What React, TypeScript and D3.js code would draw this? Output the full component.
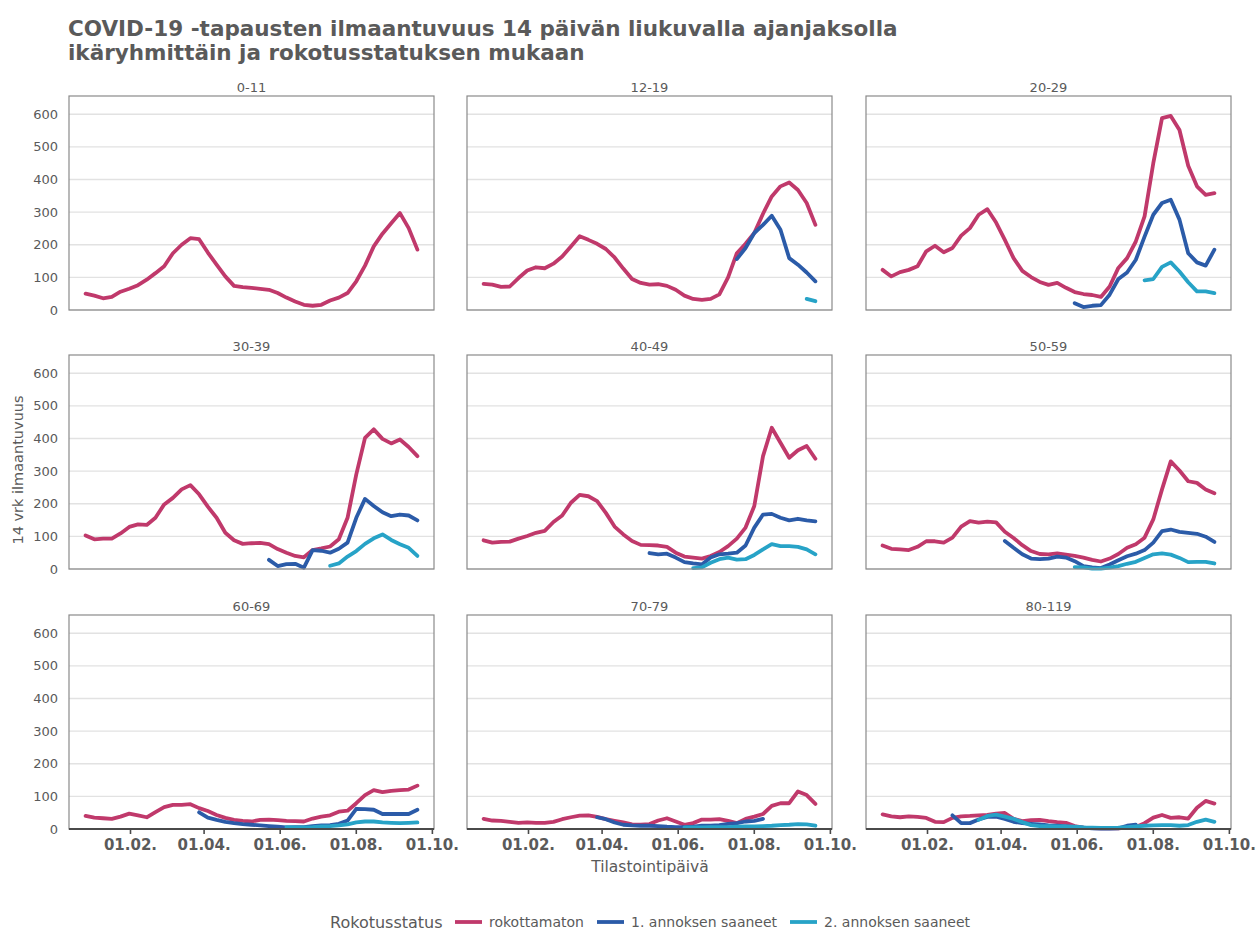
import React from "react";
import * as d3 from "d3";

// ---------- data ----------
const dateLabels = [
  "2020-12-27", "2021-01-03", "2021-01-10", "2021-01-17", "2021-01-24", "2021-01-31",
  "2021-02-07", "2021-02-14", "2021-02-21", "2021-02-28", "2021-03-07", "2021-03-14",
  "2021-03-21", "2021-03-28", "2021-04-04", "2021-04-11", "2021-04-18", "2021-04-25",
  "2021-05-02", "2021-05-09", "2021-05-16", "2021-05-23", "2021-05-30", "2021-06-06",
  "2021-06-13", "2021-06-20", "2021-06-27", "2021-07-04", "2021-07-11", "2021-07-18",
  "2021-07-25", "2021-08-01", "2021-08-08", "2021-08-15", "2021-08-22", "2021-08-29",
  "2021-09-05", "2021-09-12", "2021-09-19",
];

const ageGroups = ["0-11", "12-19", "20-29", "30-39", "40-49", "50-59", "60-69", "70-79", "80-119"];
const statusNames = ["rokottamaton", "1. annoksen saaneet", "2. annoksen saaneet"];
const statusColors = ["#c0396b", "#2b5ba8", "#27a3c7"];

const xTickLabels = ["2021-02-01", "2021-04-01", "2021-06-01", "2021-08-01", "2021-10-01"];
const yTickValues = [0, 100, 200, 300, 400, 500, 600];

// each series: [index of first date, values...]
const unvac_0_11 = [0, 50, 44, 36, 40, 56, 65, 76, 93, 113, 134, 174, 200, 220, 217, 176, 139, 103, 74, 70, 68, 65, 62, 52, 38, 26, 16, 13, 16, 29, 38, 52, 88, 136, 195, 234, 266, 297, 251, 185];
const dose1_0_11: number[] = [];
const dose2_0_11: number[] = [];

const unvac_12_19 = [0, 80, 78, 71, 72, 98, 121, 131, 128, 142, 164, 195, 226, 215, 203, 187, 161, 127, 95, 83, 78, 79, 74, 62, 44, 34, 31, 34, 48, 100, 174, 203, 236, 295, 348, 379, 391, 368, 328, 261];
const dose1_12_19 = [29, 156, 190, 236, 261, 289, 246, 159, 139, 115, 88];
const dose2_12_19 = [37, 34, 27];

const unvac_20_29 = [0, 123, 103, 116, 123, 134, 180, 197, 177, 190, 228, 251, 292, 309, 268, 215, 159, 120, 101, 86, 77, 83, 68, 55, 49, 46, 40, 72, 129, 159, 210, 287, 450, 588, 595, 552, 442, 379, 353, 358];
const dose1_20_29 = [22, 21, 9, 13, 15, 47, 95, 115, 154, 225, 292, 328, 338, 277, 174, 146, 136, 185];
const dose2_20_29 = [30, 91, 95, 132, 146, 118, 85, 57, 57, 52];

const unvac_30_39 = [0, 103, 91, 93, 93, 109, 129, 137, 135, 157, 198, 218, 244, 257, 229, 191, 157, 111, 88, 77, 79, 80, 76, 61, 50, 40, 36, 58, 63, 69, 91, 157, 290, 402, 428, 399, 385, 397, 374, 346];
const dose1_30_39 = [21, 28, 9, 15, 16, 4, 58, 56, 50, 62, 81, 157, 215, 193, 174, 162, 167, 164, 149];
const dose2_30_39 = [28, 10, 17, 38, 55, 77, 94, 106, 89, 76, 65, 40];

const unvac_40_49 = [0, 88, 81, 83, 84, 93, 101, 111, 117, 144, 164, 203, 227, 223, 208, 172, 130, 106, 86, 74, 73, 72, 68, 50, 38, 35, 32, 40, 52, 70, 93, 127, 193, 346, 433, 387, 341, 364, 377, 338];
const dose1_40_49 = [19, 49, 45, 47, 35, 21, 17, 14, 35, 45, 47, 50, 72, 127, 167, 169, 157, 149, 154, 149, 146];
const dose2_40_49 = [24, 3, 5, 19, 30, 35, 29, 30, 43, 60, 76, 70, 70, 68, 60, 45];

const unvac_50_59 = [0, 72, 62, 60, 58, 68, 85, 85, 81, 96, 130, 147, 142, 145, 143, 114, 95, 73, 55, 46, 45, 48, 44, 40, 35, 28, 23, 32, 46, 65, 76, 96, 152, 244, 330, 302, 269, 264, 244, 232];
const dose1_50_59 = [14, 86, 65, 45, 32, 30, 32, 38, 35, 24, 9, 5, 3, 14, 27, 39, 47, 58, 81, 116, 121, 114, 111, 108, 99, 83];
const dose2_50_59 = [22, 6, 5, 1, 1, 4, 9, 16, 22, 34, 45, 48, 44, 34, 21, 22, 22, 17];

const unvac_60_69 = [0, 40, 35, 33, 31, 38, 47, 42, 36, 52, 67, 74, 74, 76, 64, 55, 43, 34, 28, 25, 23, 28, 29, 27, 25, 24, 23, 32, 38, 42, 53, 56, 79, 104, 119, 113, 117, 119, 121, 133];
const dose1_60_69 = [13, 51, 35, 28, 22, 18, 15, 13, 11, 9, 7, 5, 6, 6, 9, 11, 12, 16, 26, 62, 61, 59, 46, 46, 46, 46, 59];
const dose2_60_69 = [23, 6, 5, 5, 6, 8, 9, 11, 14, 20, 23, 23, 20, 19, 18, 19, 20];

const unvac_70_79 = [0, 31, 26, 25, 22, 19, 20, 19, 19, 22, 30, 36, 41, 42, 37, 30, 25, 20, 14, 13, 15, 26, 33, 23, 13, 18, 29, 29, 30, 25, 18, 31, 38, 46, 71, 79, 79, 115, 104, 77];
const dose1_70_79 = [13, 36, 30, 20, 13, 11, 10, 10, 9, 7, 6, 6, 7, 10, 10, 12, 16, 18, 23, 25, 31];
const dose2_70_79 = [23, 5, 5, 5, 6, 6, 6, 7, 8, 8, 9, 10, 12, 13, 15, 14, 10];

const unvac_80_119 = [0, 45, 39, 36, 39, 37, 34, 22, 21, 34, 39, 40, 42, 43, 47, 49, 31, 24, 27, 28, 24, 21, 19, 9, 4, 3, 2, 2, 2, 4, 6, 18, 35, 43, 34, 36, 32, 65, 86, 78];
const dose1_80_119 = [8, 42, 18, 18, 29, 37, 38, 31, 22, 18, 16, 14, 11, 10, 8, 6, 4, 2, 1, 1, 2, 10, 13];
const dose2_80_119 = [11, 28, 40, 44, 38, 31, 21, 12, 9, 9, 8, 8, 7, 5, 4, 3, 3, 4, 6, 8, 10, 11, 12, 12, 10, 12, 22, 29, 22];

const seriesTable: number[][][] = [
  [unvac_0_11, dose1_0_11, dose2_0_11],
  [unvac_12_19, dose1_12_19, dose2_12_19],
  [unvac_20_29, dose1_20_29, dose2_20_29],
  [unvac_30_39, dose1_30_39, dose2_30_39],
  [unvac_40_49, dose1_40_49, dose2_40_49],
  [unvac_50_59, dose1_50_59, dose2_50_59],
  [unvac_60_69, dose1_60_69, dose2_60_69],
  [unvac_70_79, dose1_70_79, dose2_70_79],
  [unvac_80_119, dose1_80_119, dose2_80_119],
];

// ---------- layout ----------
const W = 1260;
const H = 932;
const FONT = "DejaVu Sans, sans-serif";
const TXT = "#5a5a5a";
const colLefts = [69, 467, 866];
const rowTops = [96, 355, 615];
const PW = 365;
const PH = 214;

const parse = d3.timeParse("%Y-%m-%d");
const dates = dateLabels.map((d) => parse(d) as Date);

function toPoints(s: number[]) {
  if (!s.length) return [] as { d: Date; v: number }[];
  const start = s[0];
  return s.slice(1).map((v, i) => ({ d: dates[start + i], v }));
}

const dExt = d3.extent(dates) as [Date, Date];
const span = +dExt[1] - +dExt[0];
const x = d3
  .scaleTime()
  .domain([new Date(+dExt[0] - span * 0.05), new Date(+dExt[1] + span * 0.05)])
  .range([0, PW]);
const y = d3.scaleLinear().domain([0, 656]).range([PH, 0]);
const line = d3
  .line<{ d: Date; v: number }>()
  .x((p) => x(p.d))
  .y((p) => y(p.v))
  .curve(d3.curveLinear);
const fmt = d3.timeFormat("%d.%m.");

export default function App() {
  return (
    <svg
      width={W}
      height={H}
      style={{ position: "absolute", left: 0, top: 0, background: "#fff" }}
      fontFamily={FONT}
    >
      <text x={68} y={36} fontSize={21.5} fontWeight="bold" fill={TXT}>
        COVID-19 -tapausten ilmaantuvuus 14 päivän liukuvalla ajanjaksolla
      </text>
      <text x={68} y={59.5} fontSize={21.5} fontWeight="bold" fill={TXT}>
        ikäryhmittäin ja rokotusstatuksen mukaan
      </text>

      {ageGroups.map((g, gi) => {
        const col = gi % 3;
        const row = Math.floor(gi / 3);
        const left = colLefts[col];
        const top = rowTops[row];
        return (
          <g key={g} transform={`translate(${left},${top})`}>
            <text x={PW / 2} y={-4} textAnchor="middle" fontSize={13} fill={TXT}>
              {g}
            </text>
            {yTickValues.map((t) => (
              <line key={t} x1={0} x2={PW} y1={y(t)} y2={y(t)} stroke="#e2e2e2" strokeWidth={1.3} />
            ))}
            {col === 0 &&
              yTickValues.map((t) => (
                <text key={t} x={-11} y={y(t)} dy="0.35em" textAnchor="end" fontSize={13} fill={TXT}>
                  {t}
                </text>
              ))}
            <g>
              {seriesTable[gi].map((s, si) =>
                s.length ? (
                  <path
                    key={si}
                    d={line(toPoints(s)) || ""}
                    fill="none"
                    stroke={statusColors[si]}
                    strokeWidth={3.8}
                    strokeLinejoin="round"
                    strokeLinecap="round"
                  />
                ) : null
              )}
            </g>
            <rect x={0} y={0} width={PW} height={PH} fill="none" stroke="#8a8a8a" strokeWidth={1.2} />
            {row === 2 && (
              <g>
                <line x1={0} x2={PW} y1={PH} y2={PH} stroke="#4a4a4a" strokeWidth={2.2} />
                {xTickLabels.map((t) => {
                  const dt = parse(t) as Date;
                  const xx = x(dt);
                  return (
                    <g key={t} transform={`translate(${xx},${PH})`}>
                      <line y1={0} y2={5} stroke="#4a4a4a" strokeWidth={1.6} />
                      <text y={21} textAnchor="middle" fontSize={15} fontWeight="bold" fill={TXT}>
                        {fmt(dt)}
                      </text>
                    </g>
                  );
                })}
              </g>
            )}
          </g>
        );
      })}

      <text x={650} y={872} textAnchor="middle" fontSize={15.5} fill={TXT}>
        Tilastointipäivä
      </text>
      <text
        transform={`translate(23,470) rotate(-90)`}
        textAnchor="middle"
        fontSize={14.5}
        fill={TXT}
      >
        14 vrk ilmaantuvuus
      </text>

      <g transform="translate(330,922)">
        <text x={0} y={0} dy="0.35em" fontSize={16} fill={TXT}>
          Rokotusstatus
        </text>
        {statusNames.map((n, i) => {
          const offs = [125, 267, 460];
          return (
            <g key={n} transform={`translate(${offs[i]},0)`}>
              <line x1={0} x2={27} y1={0} y2={0} stroke={statusColors[i]} strokeWidth={3.8} />
              <text x={34} y={0} dy="0.35em" fontSize={14} fill={TXT}>
                {n}
              </text>
            </g>
          );
        })}
      </g>
    </svg>
  );
}
